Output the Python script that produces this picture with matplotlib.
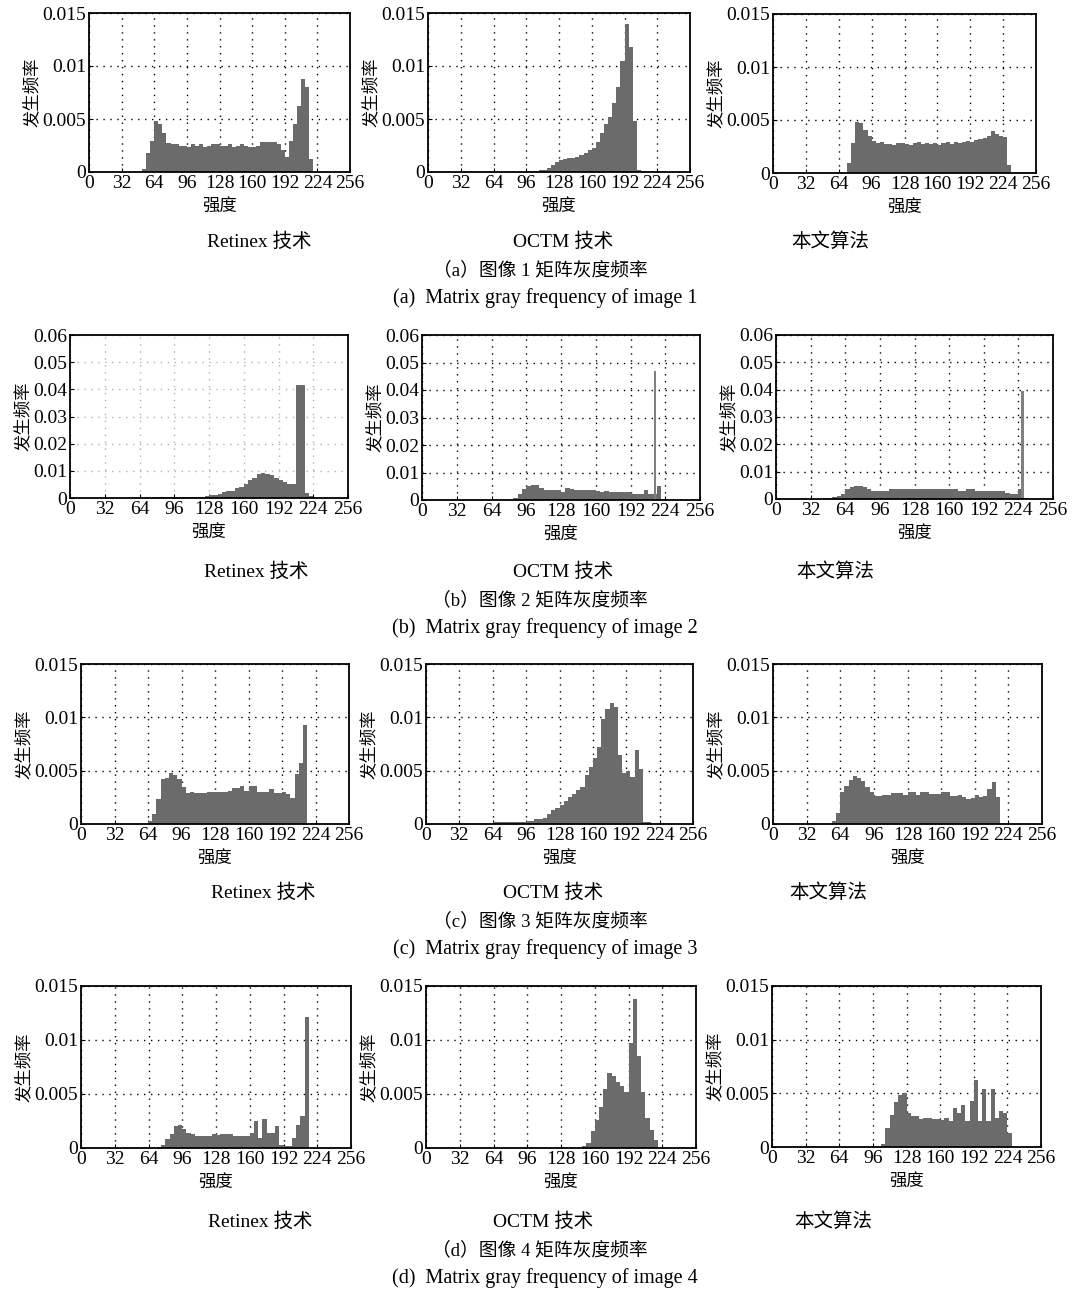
import numpy as np
import matplotlib
matplotlib.use('Agg')
import matplotlib.pyplot as plt

plt.rcParams['font.family'] = ['Liberation Serif', 'Noto Sans CJK SC']
plt.rcParams['font.size'] = 11

# histogram data: first bin start (intensity), bin width 4, bar heights
BIN = 4

r1_retinex_start = 52
r1_retinex = [0.0003, 0.0018, 0.0029, 0.0048, 0.0045, 0.0037, 0.0027,
              0.0026, 0.0026, 0.0025, 0.0025, 0.0024, 0.0026, 0.0025, 0.0026,
              0.0024, 0.0025, 0.0026, 0.0026, 0.0025, 0.0025, 0.0026, 0.0024,
              0.0025, 0.0026, 0.0025, 0.0024, 0.0024, 0.0025, 0.0028, 0.0028,
              0.0028, 0.0028, 0.0026, 0.0021, 0.0014, 0.0029, 0.0045, 0.0062,
              0.0088, 0.0080, 0.0012]

r1_octm_start = 96
r1_octm = [0.0001, 0.0001, 0.0001, 0.0002, 0.0002, 0.0004, 0.0007, 0.0009,
           0.0011, 0.0012, 0.0013, 0.0013, 0.0014, 0.0016, 0.0018, 0.0021,
           0.0023, 0.0028, 0.0037, 0.0045, 0.0052, 0.0065, 0.0080, 0.0105,
           0.0140, 0.0118, 0.0048, 0.0002, 0.0001]

r1_ours_start = 72
r1_ours = [0.0009, 0.0028, 0.0048, 0.0047, 0.0041, 0.0035, 0.0030, 0.0028,
           0.0029, 0.0027, 0.0027, 0.0026, 0.0028, 0.0028, 0.0027, 0.0026,
           0.0028, 0.0029, 0.0027, 0.0028, 0.0027, 0.0028, 0.0026, 0.0028,
           0.0029, 0.0027, 0.0029, 0.0028, 0.0029, 0.0030, 0.0029, 0.0031,
           0.0032, 0.0033, 0.0035, 0.0040, 0.0037, 0.0035, 0.0034, 0.0008]

r2_retinex_start = 76
r2_retinex = [0.0003, 0.0003, 0.0003, 0.0003, 0.0004, 0.0004, 0.0004, 0.0004,
              0.0004, 0.0004, 0.0004, 0.0004, 0.0006, 0.0012, 0.0012, 0.0013,
              0.0022, 0.0025, 0.0026, 0.0035, 0.0040, 0.0050, 0.0068, 0.0075,
              0.0088, 0.0092, 0.0090, 0.0083, 0.0075, 0.0065, 0.0058, 0.0050,
              0.0050, 0.0415, 0.0415, 0.0020, 0.0006]

r2_octm_start = 84
r2_octm = [0.0006, 0.0022, 0.0040, 0.0052, 0.0056, 0.0054, 0.0044, 0.0037,
           0.0036, 0.0036, 0.0035, 0.0030, 0.0042, 0.0040, 0.0036, 0.0036,
           0.0036, 0.0036, 0.0036, 0.0034, 0.0029, 0.0034, 0.0030, 0.0030,
           0.0030, 0.0030, 0.0029, 0.0023, 0.0022, 0.0022, 0.0035, 0.0021,
           0.0021, 0.0050, 0.0005]
r2_octm_spike = (214.0, 1.5, 0.0470)

r2_ours_start = 44
r2_ours = [0.0003, 0.0003, 0.0006, 0.0012, 0.0020, 0.0035, 0.0045, 0.0046,
           0.0046, 0.0044, 0.0036, 0.0029, 0.0028, 0.0028, 0.0030,
           0.0038, 0.0038, 0.0038, 0.0038, 0.0038, 0.0038, 0.0038, 0.0038,
           0.0038, 0.0038, 0.0038, 0.0038, 0.0038, 0.0038, 0.0038, 0.0038,
           0.0031, 0.0030, 0.0037, 0.0036, 0.0031, 0.0030, 0.0030, 0.0030,
           0.0030, 0.0030, 0.0030, 0.0021, 0.0020, 0.0020, 0.0035, 0.0003]
r2_ours_spike = (226.0, 3.0, 0.0395)

r3_retinex_start = 64
r3_retinex = [0.0003, 0.0009, 0.0023, 0.0042, 0.0043, 0.0048, 0.0046, 0.0042,
              0.0035, 0.0029, 0.0030, 0.0029, 0.0029, 0.0029, 0.0030, 0.0030,
              0.0030, 0.0030, 0.0030, 0.0031, 0.0034, 0.0034, 0.0036, 0.0031,
              0.0036, 0.0036, 0.0030, 0.0030, 0.0030, 0.0033, 0.0029, 0.0029,
              0.0030, 0.0028, 0.0024, 0.0047, 0.0057, 0.0093]

r3_octm_start = 64
r3_octm = [0.0002, 0.0002, 0.0002, 0.0002, 0.0002, 0.0002, 0.0002, 0.0002,
           0.0003, 0.0003, 0.0005, 0.0005, 0.0006, 0.0009, 0.0013, 0.0015,
           0.0018, 0.0022, 0.0025, 0.0028, 0.0032, 0.0035, 0.0046, 0.0053,
           0.0062, 0.0072, 0.0098, 0.0108, 0.0113, 0.0110, 0.0065, 0.0048,
           0.0050, 0.0044, 0.0069, 0.0052, 0.0002, 0.0002]

r3_ours_start = 56
r3_ours = [0.0003, 0.0010, 0.0030, 0.0036, 0.0041, 0.0045, 0.0043, 0.0040,
           0.0035, 0.0030, 0.0026, 0.0026, 0.0027, 0.0027, 0.0029, 0.0029,
           0.0029, 0.0027, 0.0030, 0.0030, 0.0027, 0.0030, 0.0030, 0.0028,
           0.0028, 0.0028, 0.0030, 0.0030, 0.0026, 0.0026, 0.0027, 0.0025,
           0.0023, 0.0024, 0.0027, 0.0025, 0.0026, 0.0033, 0.0039, 0.0025]

r4_retinex_start = 72
r4_retinex = [0.0001, 0.0003, 0.0008, 0.0013, 0.0020, 0.0021, 0.0018, 0.0014,
              0.0013, 0.0011, 0.0011, 0.0011, 0.0011, 0.0013, 0.0012, 0.0013,
              0.0013, 0.0013, 0.0011, 0.0011, 0.0011, 0.0011, 0.0014, 0.0025,
              0.0009, 0.0027, 0.0014, 0.0014, 0.0020, 0.0003, 0.0002, 0.0002,
              0.0009, 0.0021, 0.0030, 0.0121]

r4_octm_start = 148
r4_octm = [0.0002, 0.0005, 0.0016, 0.0026, 0.0038, 0.0055, 0.0069, 0.0067,
           0.0061, 0.0057, 0.0052, 0.0097, 0.0138, 0.0085, 0.0052, 0.0028,
           0.0017, 0.0007]

r4_ours_start = 104
r4_ours = [0.0003, 0.0018, 0.0030, 0.0042, 0.0048, 0.0050, 0.0032, 0.0029,
           0.0029, 0.0026, 0.0027, 0.0027, 0.0026, 0.0026, 0.0025, 0.0027,
           0.0024, 0.0036, 0.0032, 0.0039, 0.0024, 0.0043, 0.0062, 0.0024,
           0.0054, 0.0024, 0.0054, 0.0027, 0.0034, 0.0032, 0.0013]

xticks = [0, 32, 64, 96, 128, 160, 192, 224, 256]
yticks_small = [0, 0.005, 0.01, 0.015]
ylabels_small = ['0', '0.005', '0.01', '0.015']
yticks_big = [0, 0.01, 0.02, 0.03, 0.04, 0.05, 0.06]
ylabels_big = ['0', '0.01', '0.02', '0.03', '0.04', '0.05', '0.06']

method_names = ['Retinex 技术', 'OCTM 技术', '本文算法']
captions_cn = ['（a）图像 1 矩阵灰度频率', '（b）图像 2 矩阵灰度频率',
               '（c）图像 3 矩阵灰度频率', '（d）图像 4 矩阵灰度频率']
captions_en = ['(a)  Matrix gray frequency of image 1',
               '(b)  Matrix gray frequency of image 2',
               '(c)  Matrix gray frequency of image 3',
               '(d)  Matrix gray frequency of image 4']

panels = [
    [(r1_retinex_start, r1_retinex, None), (r1_octm_start, r1_octm, None), (r1_ours_start, r1_ours, None)],
    [(r2_retinex_start, r2_retinex, None), (r2_octm_start, r2_octm, r2_octm_spike), (r2_ours_start, r2_ours, r2_ours_spike)],
    [(r3_retinex_start, r3_retinex, None), (r3_octm_start, r3_octm, None), (r3_ours_start, r3_ours, None)],
    [(r4_retinex_start, r4_retinex, None), (r4_octm_start, r4_octm, None), (r4_ours_start, r4_ours, None)],
]

W, H = 1081, 1290
fig = plt.figure(figsize=(W / 100, H / 100), dpi=100)

# axes boxes in pixels: left, top, right, bottom
boxes = [
    [(89, 13, 350, 172), (428, 13, 690, 172), (773, 14, 1036, 173)],
    [(70, 335, 348, 498), (422, 335, 700, 500), (776, 335, 1053, 499)],
    [(81, 664, 349, 824), (426, 664, 693, 824), (773, 664, 1042, 824)],
    [(81, 986, 351, 1148), (426, 986, 696, 1148), (772, 986, 1041, 1147)],
]
name_y = [242, 572, 893, 1222]
name_x = [[259, 563, 830], [256, 563, 835], [263, 553, 828], [260, 543, 833]]

bar_color = '#6b6b6b'

for r in range(4):
    for c in range(3):
        l, t, rr, b = boxes[r][c]
        ax = fig.add_axes([l / W, 1 - b / H, (rr - l) / W, (b - t) / H])
        start, vals, spike = panels[r][c]
        edges = start + BIN * np.arange(len(vals))
        ax.bar(edges, vals, width=BIN, align='edge', color=bar_color, linewidth=0)
        if spike is not None:
            ax.bar([spike[0]], [spike[2]], width=spike[1], align='edge',
                   color='#808080', linewidth=0)
        ax.set_xlim(0, 256)
        ax.set_xticks(xticks)
        ax.set_xticklabels([str(v) for v in xticks])
        if r == 1:
            ax.set_ylim(0, 0.06)
            ax.set_yticks(yticks_big)
            ax.set_yticklabels(ylabels_big)
        else:
            ax.set_ylim(0, 0.015)
            ax.set_yticks(yticks_small)
            ax.set_yticklabels(ylabels_small)
        gcol = '#b0b0b0' if (r == 1 and c == 0) else 'black'
        ax.grid(True, linestyle=(0, (1, 4)), color=gcol, linewidth=1.0)
        ax.set_axisbelow(True)
        ax.tick_params(direction='in', length=3, width=0.8, labelsize=14, pad=2)
        for s in ax.spines.values():
            s.set_linewidth(1.3)
        ax.set_xlabel('强度', fontsize=12.5, labelpad=6)
        ax.set_ylabel('发生频率', fontsize=12.5, labelpad=1)

        fig.text(name_x[r][c] / W, 1 - name_y[r] / H, method_names[c],
                 ha='center', va='center', fontsize=14)

    fig.text(540 / W, 1 - (name_y[r] + 28) / H, captions_cn[r],
             ha='center', va='center', fontsize=13.5)
    fig.text(545 / W, 1 - (name_y[r] + 56) / H, captions_en[r],
             ha='center', va='center', fontsize=14.5)

fig.savefig('out.png', dpi=100)
